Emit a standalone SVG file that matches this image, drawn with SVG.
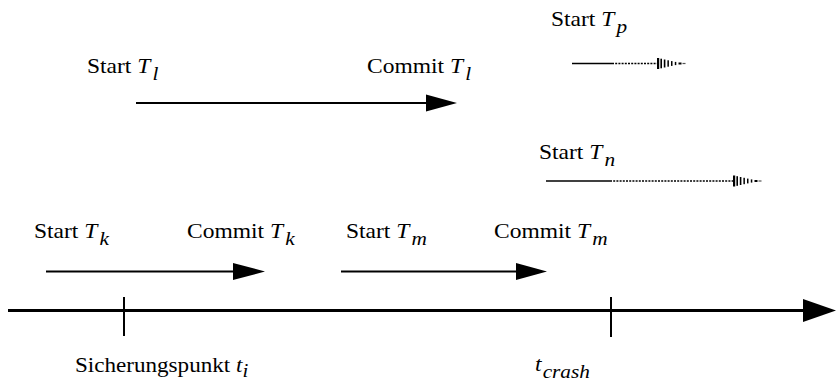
<svg xmlns="http://www.w3.org/2000/svg" width="836" height="384" viewBox="0 0 836 384">
  <style>
    text { font-family: "Liberation Serif", "Times New Roman", serif; font-size: 21px; fill: #000; }
    .it { font-style: italic; }
    .sub { font-style: italic; font-size: 19px; }
    .tx { stroke: #000; stroke-width: 2; fill: none; }
    .axis { stroke: #000; stroke-width: 3; fill: none; }
    .tick { stroke: #000; stroke-width: 2; }
    .solid { stroke: #000; stroke-width: 1.6; }
    .dots { stroke: #000; stroke-width: 1.6; stroke-dasharray: 2 1.2; }
  </style>
  <defs>
    <!-- striped, fading arrowhead of a transaction still running at the crash -->
    <g id="fadeHead">
      <rect x="0" y="-5.5" width="2.2" height="11"/>
      <rect x="3.4" y="-4.8" width="1.6" height="9.6"/>
      <rect x="6.8" y="-4" width="1.6" height="8"/>
      <rect x="10.4" y="-3.2" width="1.5" height="6.4"/>
      <rect x="14" y="-2.4" width="1.5" height="4.8"/>
      <rect x="17.8" y="-1.6" width="1.5" height="3.2"/>
      <rect x="21.5" y="-1" width="3" height="2"/>
      <rect x="25.5" y="-0.6" width="3" height="1.2" fill="#555"/>
    </g>
  </defs>

  <!-- time axis with the two markers -->
  <g id="timeline">
    <line class="axis" x1="8" y1="310.5" x2="806" y2="310.5"/>
    <polygon points="803,299 836,310.5 803,322" fill="#000"/>
    <line class="tick" x1="124" y1="297" x2="124" y2="336"/>
    <line class="tick" x1="611" y1="297" x2="611" y2="337"/>
  </g>

  <g id="label-sicherungspunkt">
    <text transform="translate(75,372) scale(1.1,1)">Sicherungspunkt <tspan class="it">t</tspan><tspan class="sub" dy="5">i</tspan></text>
  </g>
  <g id="label-crash">
    <text transform="translate(535,371) scale(1.12,1)"><tspan class="it">t</tspan><tspan class="sub" dx="1" dy="7">crash</tspan></text>
  </g>

  <!-- transaction T_l -->
  <g id="Tl">
    <text transform="translate(87,73) scale(1.12,1)">Start <tspan class="it">T</tspan><tspan class="sub" dx="2" dy="7">l</tspan></text>
    <text transform="translate(367,73) scale(1.12,1)">Commit <tspan class="it">T</tspan><tspan class="sub" dx="2" dy="7">l</tspan></text>
  </g>

  <!-- transaction T_p (open) -->
  <g id="Tp">
    <text transform="translate(551,26) scale(1.12,1)">Start <tspan class="it">T</tspan><tspan class="sub" dx="2" dy="7">p</tspan></text>
  </g>

  <!-- transaction T_n (open) -->
  <g id="Tn">
    <text transform="translate(539,159) scale(1.12,1)">Start <tspan class="it">T</tspan><tspan class="sub" dx="2" dy="7">n</tspan></text>
  </g>

  <!-- transaction T_k -->
  <g id="Tk">
    <text transform="translate(34,238) scale(1.12,1)">Start <tspan class="it">T</tspan><tspan class="sub" dx="2" dy="7">k</tspan></text>
    <text transform="translate(187,238) scale(1.12,1)">Commit <tspan class="it">T</tspan><tspan class="sub" dx="2" dy="7">k</tspan></text>
  </g>

  <!-- transaction T_m -->
  <g id="Tm">
    <text transform="translate(346,238) scale(1.12,1)">Start <tspan class="it">T</tspan><tspan class="sub" dx="2" dy="7">m</tspan></text>
    <text transform="translate(494,238) scale(1.12,1)">Commit <tspan class="it">T</tspan><tspan class="sub" dx="2" dy="7">m</tspan></text>
  </g>

  <!-- connectors: lifetimes of the transactions -->
  <g id="connectors">
    <line class="tx" x1="136" y1="103" x2="428" y2="103"/>
    <polygon points="426,94.5 457,103 426,111.5" fill="#000"/>

    <line class="tx" x1="46" y1="271.5" x2="235" y2="271.5"/>
    <polygon points="233,263 265,271.5 233,280" fill="#000"/>

    <line class="tx" x1="341" y1="271.5" x2="518" y2="271.5"/>
    <polygon points="516,263 547,271.5 516,280" fill="#000"/>

    <line class="solid" x1="572" y1="63.5" x2="612" y2="63.5"/>
    <line class="dots" x1="612" y1="63.5" x2="657" y2="63.5"/>
    <use href="#fadeHead" x="657" y="63.5"/>

    <line class="solid" x1="546" y1="181" x2="610" y2="181"/>
    <line class="dots" x1="610" y1="181" x2="733" y2="181"/>
    <use href="#fadeHead" x="733" y="181"/>
  </g>
</svg>
